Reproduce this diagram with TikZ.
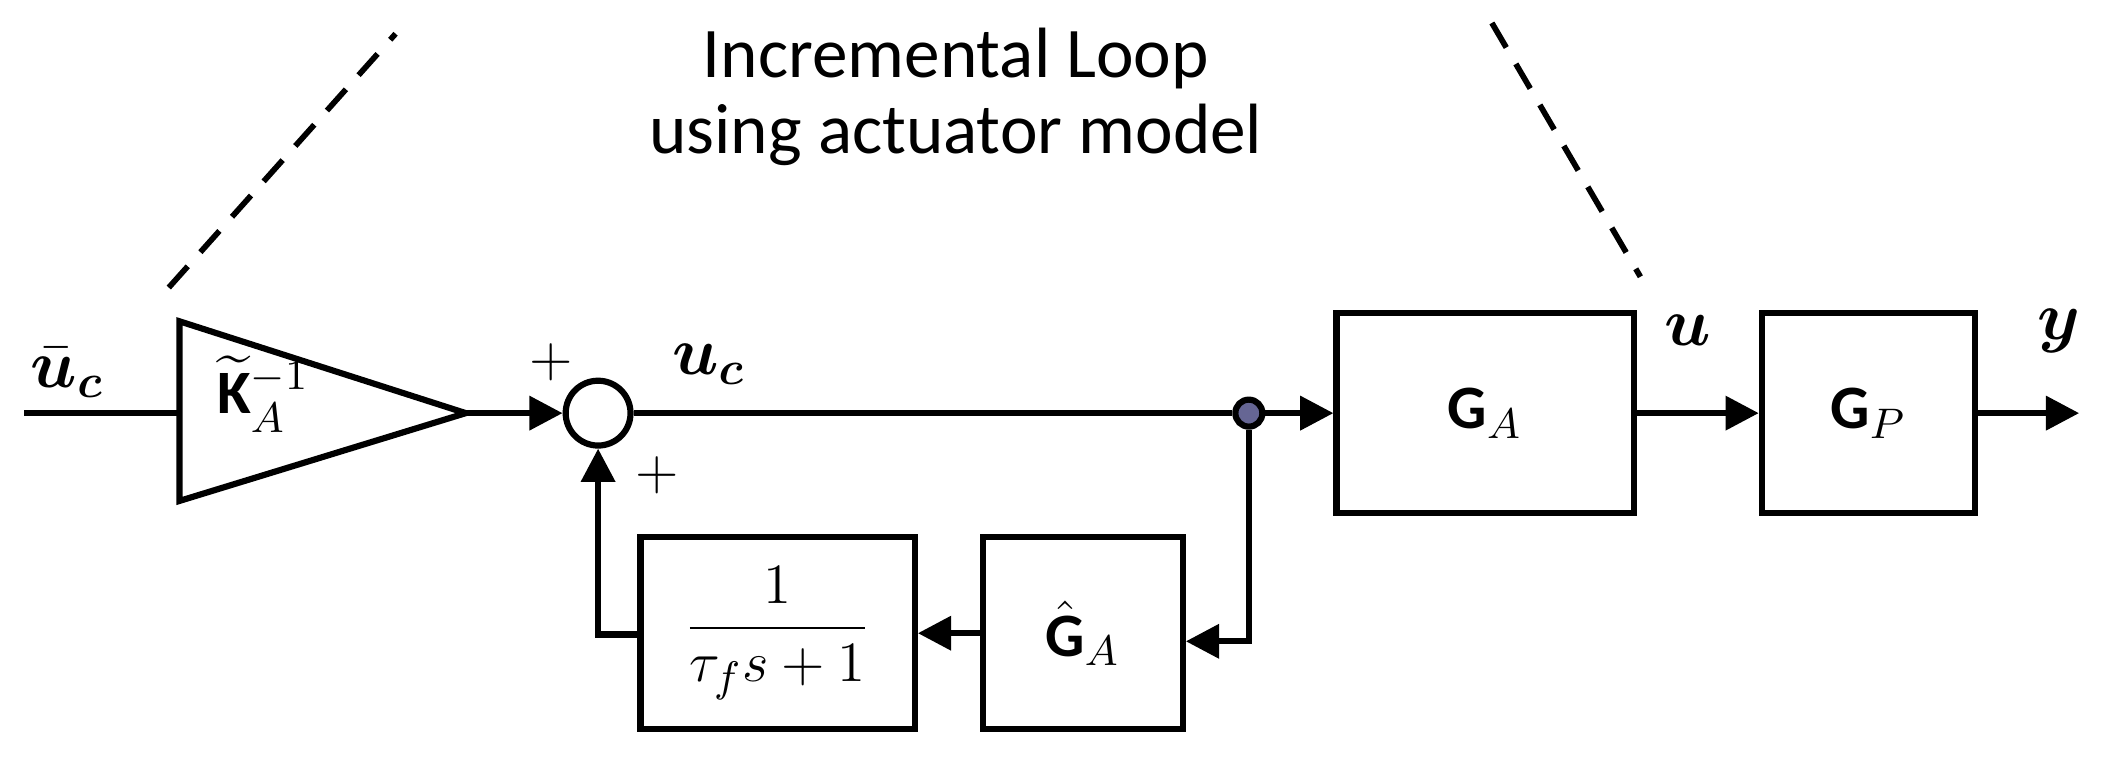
\documentclass[tikz,border=0pt]{standalone}
\usepackage{amsmath,amssymb,bm}
\usepackage{fontspec}
\setmainfont{Carlito}
\usetikzlibrary{arrows.meta,positioning,shapes.geometric}
\begin{document}
\begin{tikzpicture}[x=0.01cm,y=-0.01cm,line width=1.3pt,>={Triangle[length=7pt,width=7pt]},
    font=\fontsize{13}{15}\selectfont]
    \tikzstyle{blk} = [draw, rectangle, line width=1.3pt, inner sep=0pt]
    \tikzstyle{lbl} = [font=\fontsize{14}{16}\selectfont]
    \useasboundingbox (0,0) rectangle (1568,576);
    % blocks
    \node[blk, minimum width=2.2cm, minimum height=1.48cm] (ga) at (1100,306) {$\mathbf{G}_A$};
    \node[blk, minimum width=1.58cm, minimum height=1.48cm] (gp) at (1384,306) {$\mathbf{G}_P$};
    \node[blk, minimum width=1.48cm, minimum height=1.42cm] (gh) at (802,469) {$\hat{\mathbf{G}}_A$};
    \node[blk, minimum width=2.03cm, minimum height=1.42cm] (flt) at (576,469) {$\dfrac{1}{\tau_f s+1}$};
    \node[draw, circle, minimum size=0.48cm, inner sep=0pt] (sum) at (443,306) {};
    \node[draw, circle, fill=black!70!blue!60, minimum size=0.2cm, inner sep=0pt] (dot) at (925,306) {};
    % gain
    \draw (133,238) coordinate (kl) -- (345,306) coordinate (kout) -- (133,371) -- cycle;
    \node (k) at (195,292) {$\widetilde{\mathbf{K}}_A^{-1}$};
    \coordinate (in) at (18,306);
    \coordinate (out) at (1540,306);
    \coordinate (fb) at (925,475);
    \coordinate (fl) at (443,470);
    % connectors
    \draw (in) -- (133,306);
    \draw[->] (kout) -- (sum);
    \draw (sum) -- (dot);
    \draw[->] (dot) -- (ga);
    \draw[->] (ga) -- (gp);
    \draw[->] (gp) -- (out);
    \draw[->] (dot) -- (fb) -- (gh.east |- fb);
    \draw[->] (gh) -- (flt);
    \draw[->] (flt.west |- fl) -- (fl) -- (sum);
    % labels
    \node[lbl] at (50,276) {$\bar{\bm{u}}_{\bm{c}}$};
    \node at (408,268) {$+$};
    \node at (487,352) {$+$};
    \node[lbl] at (525,270) {$\bm{u}_{\bm{c}}$};
    \node[lbl] at (1250,245) {$\bm{u}$};
    \node[lbl] at (1525,245) {$\bm{y}$};
    \node[align=center, font=\fontsize{15}{16}\selectfont] (title) at (708,72) {Incremental Loop\\using actuator model};
    \draw[dashed, line width=1.2pt, dash pattern=on 6pt off 4pt] (125,213) -- (293,25);
    \draw[dashed, line width=1.2pt, dash pattern=on 6pt off 4pt] (1105,17) -- (1215,205);
\end{tikzpicture}
\end{document}
